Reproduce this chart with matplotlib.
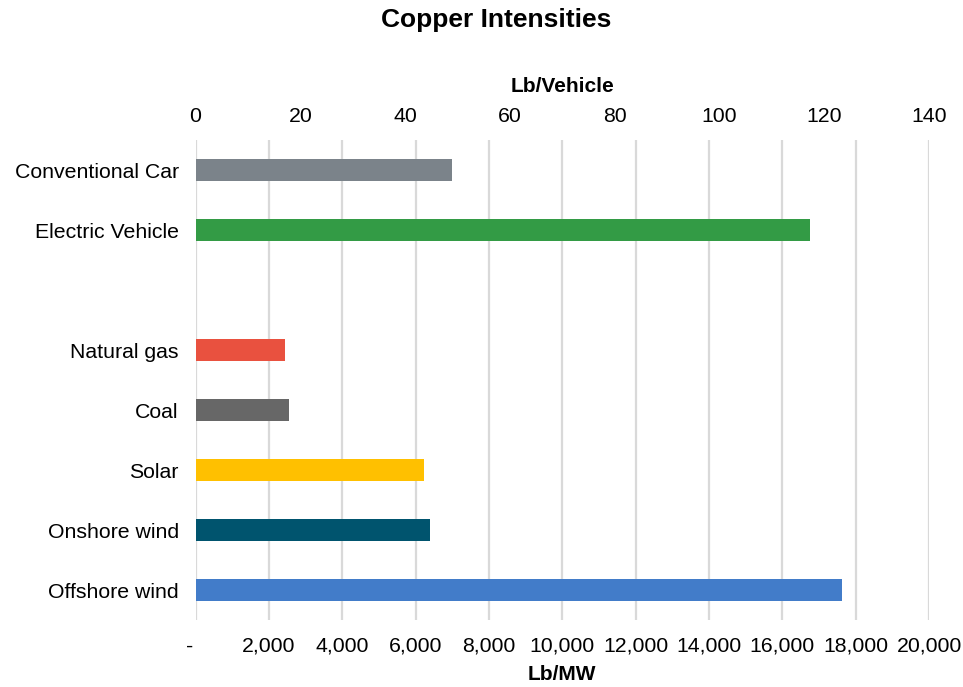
import matplotlib
matplotlib.use("Agg")
import matplotlib.pyplot as plt
import numpy as np

plt.rcParams['font.family'] = ['Liberation Sans', 'DejaVu Sans']

# Data
vehicle_labels = ["Conventional Car", "Electric Vehicle"]
vehicle_values = [49, 117.3]          # Lb/Vehicle (top axis)
vehicle_colors = ["#7b838a", "#339b45"]

power_labels = ["Natural gas", "Coal", "Solar", "Onshore wind", "Offshore wind"]
power_values = [2440, 2550, 6230, 6390, 17630]   # Lb/MW (bottom axis)
power_colors = ["#e9513f", "#676767", "#ffc000", "#00546e", "#427cc9"]

bottom_ticks = list(range(0, 20001, 2000))
bottom_ticklabels = ["-  "] + [f"{t:,}" for t in bottom_ticks[1:]]
top_ticks = list(range(0, 141, 20))

W, H = 963, 687
fig = plt.figure(figsize=(W / 100, H / 100), dpi=100)
left, right, top, bottom = 195.5, 929, 140, 620
ax = fig.add_axes([left / W, 1 - bottom / H, (right - left) / W, (bottom - top) / H])
ax2 = ax.twiny()

n_slots = len(vehicle_labels) + 1 + len(power_labels)
veh_y = np.arange(len(vehicle_labels))
pow_y = np.arange(len(power_labels)) + len(vehicle_labels) + 1
bh = 0.37

ax.barh(pow_y, power_values, height=bh, color=power_colors, zorder=3)
ax2.barh(veh_y, vehicle_values, height=bh, color=vehicle_colors, zorder=3)

ax.set_ylim(n_slots - 0.5, -0.5)
ax.set_xlim(0, 20000)
ax2.set_xlim(0, 140)

fs = 15.3
ax.set_yticks(list(veh_y) + list(pow_y))
ax.set_yticklabels(vehicle_labels + power_labels, fontsize=fs)
ax.set_xticks(bottom_ticks)
ax.set_xticklabels(bottom_ticklabels, fontsize=fs)
ax2.set_xticks(top_ticks)
ax2.set_xticklabels([str(t) for t in top_ticks], fontsize=fs)

ax.grid(axis='x', color='#d9d9d9', linewidth=1.6, zorder=0)
ax.set_axisbelow(True)
for a in (ax, ax2):
    for s in a.spines.values():
        s.set_visible(False)
    a.tick_params(length=0)
ax.tick_params(axis='x', pad=12)
ax.tick_params(axis='y', pad=12)
ax2.tick_params(axis='x', pad=10)
ax2.set_zorder(ax.get_zorder() + 1)
ax2.patch.set_visible(False)

fig.text(496 / W, 1 - 20 / H, "Copper Intensities", ha='center', va='center',
         fontsize=19, fontweight='bold')
fig.text(562 / W, 1 - 86 / H, "Lb/Vehicle", ha='center', va='center',
         fontsize=15, fontweight='bold')
fig.text(562 / W, 1 - 675 / H, "Lb/MW", ha='center', va='center',
         fontsize=15, fontweight='bold')

fig.savefig("out.png", dpi=100)
